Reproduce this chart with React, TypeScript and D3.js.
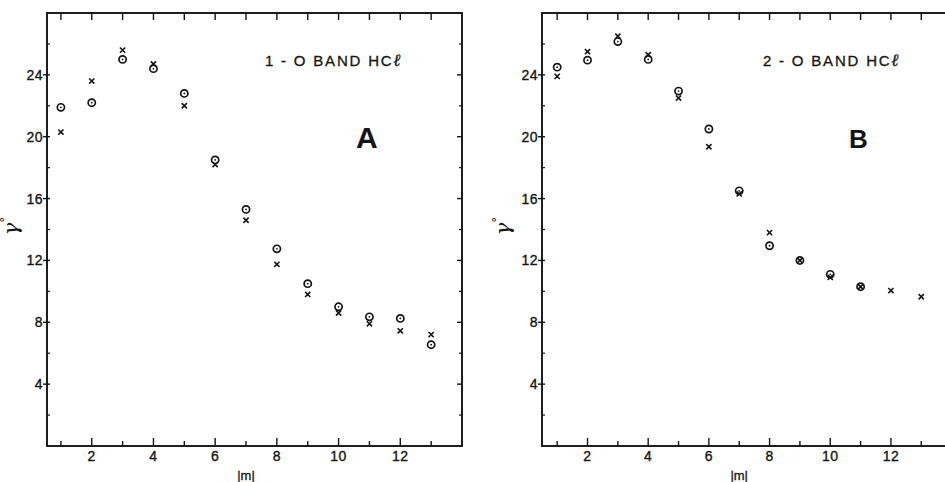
import React from "react";
import * as d3 from "d3";

// Rotational quantum number |m|
const mValues = [1, 2, 3, 4, 5, 6, 7, 8, 9, 10, 11, 12, 13];

// Panel A: 1-0 band of HCl
const circlesA = [21.9, 22.2, 25.0, 24.4, 22.8, 18.5, 15.3, 12.75, 10.5, 9.0, 8.35, 8.25, 6.55];
const crossesA = [20.3, 23.6, 25.6, 24.7, 22.0, 18.2, 14.6, 11.75, 9.8, 8.6, 7.9, 7.45, 7.2];

// Panel B: 2-0 band of HCl
const circlesB = [24.5, 24.95, 26.15, 25.0, 22.95, 20.5, 16.5, 12.95, 12.0, 11.1, 10.3];
const crossesB = [23.9, 25.5, 26.5, 25.3, 22.5, 19.35, 16.3, 13.8, 12.0, 10.9, 10.3, 10.05, 9.65];

const yMajorTicks = [4, 8, 12, 16, 20, 24];
const yMinorTicks = [2, 6, 10, 14, 18, 22, 26];
const xLabelTicks = [2, 4, 6, 8, 10, 12];

const INK = "#141414";
const FONT = "'Liberation Sans', Arial, sans-serif";

type PanelProps = {
  x0: number;
  x1: number;
  domain: [number, number];
  circles: number[];
  crosses: number[];
  title: string;
  titleX: number;
  letter: string;
  letterX: number;
  letterSize: number;
  yLabelX: number;
};

const TOP = 13;
const BOTTOM = 446;

function Panel(p: PanelProps) {
  const x = d3.scaleLinear().domain(p.domain).range([p.x0, p.x1]);
  const y = d3.scaleLinear().domain([0, 28]).range([BOTTOM, TOP]);
  const midX = x(7);
  const crossSize = 2.6;

  return (
    <g>
      {/* frame */}
      <rect
        x={p.x0}
        y={TOP}
        width={p.x1 - p.x0}
        height={BOTTOM - TOP}
        fill="none"
        stroke={INK}
        strokeWidth={1.9}
      />

      {/* top ticks at every integer */}
      {mValues.map((m) => (
        <line key={"t" + m} x1={x(m)} x2={x(m)} y1={TOP} y2={TOP + 7} stroke={INK} strokeWidth={1.4} />
      ))}
      {/* bottom ticks */}
      {mValues.map((m) => (
        <line
          key={"b" + m}
          x1={x(m)}
          x2={x(m)}
          y1={BOTTOM}
          y2={BOTTOM - (m % 2 === 0 ? 8 : 5)}
          stroke={INK}
          strokeWidth={1.4}
        />
      ))}
      {/* left & right ticks */}
      {yMajorTicks.map((v) => (
        <g key={"ym" + v}>
          <line x1={p.x0 - 4} x2={p.x0 + 3} y1={y(v)} y2={y(v)} stroke={INK} strokeWidth={1.4} />
          <line x1={p.x1} x2={p.x1 - 5} y1={y(v)} y2={y(v)} stroke={INK} strokeWidth={1.4} />
        </g>
      ))}
      {yMinorTicks.map((v) => (
        <g key={"yn" + v}>
          <line x1={p.x0} x2={p.x0 + 3} y1={y(v)} y2={y(v)} stroke={INK} strokeWidth={1.2} />
          <line x1={p.x1} x2={p.x1 - 3} y1={y(v)} y2={y(v)} stroke={INK} strokeWidth={1.2} />
        </g>
      ))}

      {/* tick labels */}
      {yMajorTicks.map((v) => (
        <text
          key={"yl" + v}
          x={p.x0 - 4}
          y={y(v) + 5}
          textAnchor="end"
          fontSize={14}
          fontFamily={FONT}
          fill={INK}
          stroke={INK}
          strokeWidth={0.35}
          letterSpacing={0.5}
        >
          {v}
        </text>
      ))}
      {xLabelTicks.map((m) => (
        <text
          key={"xl" + m}
          x={x(m)}
          y={BOTTOM + 15}
          textAnchor="middle"
          fontSize={14}
          fontFamily={FONT}
          fill={INK}
          stroke={INK}
          strokeWidth={0.35}
          letterSpacing={0.5}
        >
          {m}
        </text>
      ))}

      {/* axis titles */}
      <text
        x={midX}
        y={480}
        textAnchor="middle"
        fontSize={13}
        fontFamily={FONT}
        fill={INK}
        stroke={INK}
        strokeWidth={0.3}
      >
        |m|
      </text>
      <text
        transform={`translate(${p.yLabelX},226) rotate(-90)`}
        textAnchor="middle"
        fontSize={21}
        fontFamily={"'DejaVu Serif', serif"}
        fontStyle="italic"
        fill={INK}
      >
        γ<tspan dy={-8} fontSize={12} fontStyle="normal">°</tspan>
      </text>

      {/* panel caption and letter */}
      <text
        x={p.titleX}
        y={66}
        fontSize={15}
        fontFamily={FONT}
        letterSpacing={1.8}
        fill={INK}
        stroke={INK}
        strokeWidth={0.3}
      >
        {p.title}
        <tspan fontFamily={"'DejaVu Serif', serif"} fontStyle="italic" fontWeight="bold" fontSize={17}>ℓ</tspan>
      </text>
      <text
        x={p.letterX}
        y={y(19.3)}
        fontSize={p.letterSize}
        fontWeight="bold"
        fontFamily={FONT}
        fill={INK}
      >
        {p.letter}
      </text>

      {/* circle series */}
      {p.circles.map((v, i) => (
        <g key={"c" + i}>
          <circle cx={x(mValues[i])} cy={y(v)} r={3.6} fill="none" stroke={INK} strokeWidth={1.7} />
          <circle cx={x(mValues[i])} cy={y(v)} r={0.9} fill={INK} />
        </g>
      ))}
      {/* cross series */}
      {p.crosses.map((v, i) => {
        const cx = x(mValues[i]);
        const cy = y(v);
        return (
          <path
            key={"x" + i}
            d={`M${cx - crossSize},${cy - crossSize}L${cx + crossSize},${cy + crossSize}M${cx - crossSize},${cy + crossSize}L${cx + crossSize},${cy - crossSize}`}
            stroke={INK}
            strokeWidth={1.6}
            fill="none"
          />
        );
      })}
    </g>
  );
}

export default function App() {
  return (
    <svg
      width={945}
      height={482}
      viewBox="0 0 945 482"
      style={{ position: "absolute", left: 0, top: 0, background: "#fff" }}
    >
      <rect width={945} height={482} fill="#fff" />
      <Panel
        x0={47}
        x1={462}
        domain={[0.55, 14]}
        circles={circlesA}
        crosses={crossesA}
        title="1 - O  BAND  HC"
        titleX={265}
        letter="A"
        letterX={356}
        letterSize={30}
        yLabelX={18}
      />
      <Panel
        x0={542}
        x1={951.6}
        domain={[0.5, 14]}
        circles={circlesB}
        crosses={crossesB}
        title="2 - O  BAND  HC"
        titleX={763}
        letter="B"
        letterX={849}
        letterSize={26}
        yLabelX={510}
      />
    </svg>
  );
}
